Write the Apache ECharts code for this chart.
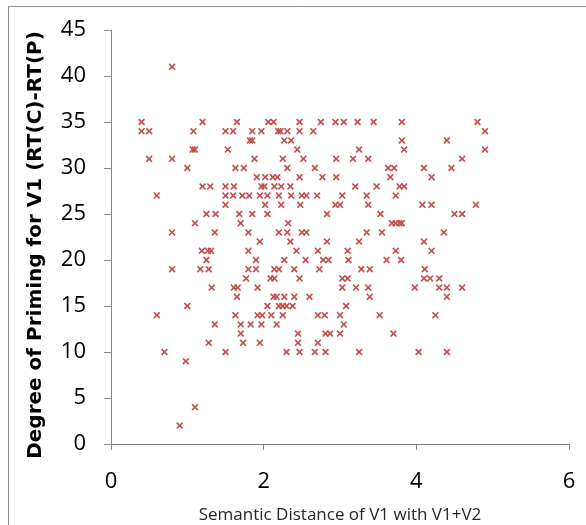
<!DOCTYPE html>
<html>
<head>
<meta charset="utf-8">
<script src="https://cdn.jsdelivr.net/npm/echarts@6/dist/echarts.min.js"></script>
<style>
html,body{margin:0;padding:0;background:#fff;}
#main{width:586px;height:525px;}
</style>
</head>
<body>
<div id="main"></div>
<script>
// rows of points, one array of x values per y value (degree of priming)
var yLevels = [41, 35, 34, 33, 32, 31, 30, 29, 28, 27, 26, 25, 24, 23, 22, 21, 20, 19, 18, 17, 16, 15, 14, 13, 12, 11, 10, 9, 4, 2];
var xByLevel = [
	[0.80],
	[0.40, 1.20, 1.65, 2.06, 2.13, 2.47, 2.75, 2.94, 3.05, 3.23, 3.44, 3.81, 4.80],
	[0.40, 0.50, 1.08, 1.50, 1.60, 1.85, 1.97, 2.19, 2.22, 2.31, 2.47, 2.65, 4.90],
	[1.82, 1.85, 2.27, 2.36, 3.81, 4.40],
	[1.07, 1.10, 1.53, 2.44, 3.25, 3.84, 4.90],
	[0.50, 0.80, 1.88, 2.25, 2.52, 2.95, 3.17, 3.37, 4.60],
	[1.00, 1.63, 1.74, 2.31, 2.67, 3.63, 3.71, 4.10, 4.46],
	[1.91, 2.02, 2.12, 2.18, 2.47, 2.77, 2.95, 3.66, 4.20],
	[1.20, 1.30, 1.50, 1.61, 1.97, 2.01, 2.14, 2.23, 2.35, 3.20, 3.48, 3.78, 3.84],
	[0.60, 1.50, 1.60, 1.72, 1.81, 1.95, 2.05, 2.20, 2.36, 2.50, 2.56, 2.70, 3.03, 3.35, 3.73],
	[1.50, 2.02, 2.23, 2.48, 2.94, 3.00, 3.37, 4.08, 4.20, 4.78],
	[1.25, 1.37, 1.68, 1.85, 2.05, 2.83, 3.53, 4.50, 4.60],
	[1.10, 1.70, 2.32, 3.68, 3.73, 3.78, 3.81],
	[0.80, 1.36, 1.80, 2.20, 2.31, 2.50, 2.56, 3.35, 3.55, 4.36],
	[1.95, 2.35, 2.83, 3.25, 4.10],
	[1.19, 1.27, 1.31, 1.80, 2.43, 2.71, 3.10, 3.73, 4.20],
	[1.25, 1.90, 2.27, 2.55, 2.78, 2.85, 3.11, 3.61, 3.80],
	[0.80, 1.17, 1.28, 1.80, 1.90, 2.14, 2.20, 2.40, 2.73, 3.28, 3.39, 4.11],
	[1.77, 2.09, 2.14, 2.47, 3.03, 3.10, 4.10, 4.18, 4.30],
	[1.32, 1.61, 1.66, 1.92, 3.03, 3.21, 3.37, 3.98, 4.30, 4.40, 4.60],
	[1.65, 2.13, 2.17, 2.27, 2.40, 2.60, 3.39, 4.40],
	[1.00, 2.05, 2.20, 2.25, 2.30, 2.38, 3.08],
	[0.60, 1.63, 1.92, 1.98, 2.10, 2.25, 2.71, 2.80, 3.00, 3.52, 4.25],
	[1.36, 1.70, 1.83, 1.97, 2.17, 3.05],
	[1.70, 2.45, 2.81, 2.87, 3.00, 3.70],
	[1.28, 1.73, 1.95, 2.45, 2.71],
	[0.70, 1.50, 2.30, 2.47, 2.67, 2.81, 3.25, 4.03, 4.40],
	[0.98],
	[1.10],
	[0.90]
];
var xTicks = [0, 2, 4, 6];
var yTicks = [0, 5, 10, 15, 20, 25, 30, 35, 40, 45];

var points = [];
for (var i = 0; i < yLevels.length; i++) {
	for (var j = 0; j < xByLevel[i].length; j++) {
		points.push([xByLevel[i][j], yLevels[i]]);
	}
}

var axisGray = '#868686';
var chart = echarts.init(document.getElementById('main'));
var option = {
	animation: false,
	backgroundColor: '#fff',
	graphic: [{
		type: 'rect',
		shape: {x: 8.5, y: 6.5, width: 600, height: 600},
		style: {fill: 'none', stroke: '#8c8c8c', lineWidth: 1},
		silent: true
	}],
	grid: {left: 111, right: 17, top: 30, bottom: 81, outerBoundsMode: 'none'},
	xAxis: {
		type: 'value',
		min: xTicks[0], max: xTicks[xTicks.length - 1], interval: 2,
		name: 'Semantic Distance of V1 with V1+V2',
		nameLocation: 'middle',
		nameGap: 63,
		nameTextStyle: {fontFamily: 'Open Sans', fontSize: 17, color: '#262626'},
		axisLine: {lineStyle: {color: axisGray, width: 1}},
		axisTick: {show: true, inside: false, length: 6, lineStyle: {color: axisGray}},
		axisLabel: {fontFamily: 'Open Sans', fontSize: 22, color: '#000', margin: 27},
		splitLine: {show: false}
	},
	yAxis: {
		type: 'value',
		min: yTicks[0], max: yTicks[yTicks.length - 1], interval: 5,
		name: 'Degree of Priming for V1 (RT(C)-RT(P)',
		nameLocation: 'middle',
		nameRotate: 90,
		nameGap: 65,
		nameTextStyle: {fontFamily: 'DejaVu Sans', fontSize: 20, fontWeight: 'bold', color: '#000', padding: [0, 16, 0, 0]},
		axisLine: {show: true, lineStyle: {color: axisGray, width: 1}},
		axisTick: {show: true, inside: false, length: 7, lineStyle: {color: axisGray}},
		axisLabel: {fontFamily: 'Open Sans', fontSize: 22, color: '#000', margin: 25},
		splitLine: {show: false}
	},
	series: [{
		type: 'scatter',
		data: points,
		symbol: 'path://M0,1L1,0L3,2L5,0L6,1L4,3L6,5L5,6L3,4L1,6L0,5L2,3Z',
		symbolSize: 7,
		itemStyle: {color: '#C0504D', opacity: 1}
	}]
};
chart.setOption(option);
</script>
</body>
</html>
